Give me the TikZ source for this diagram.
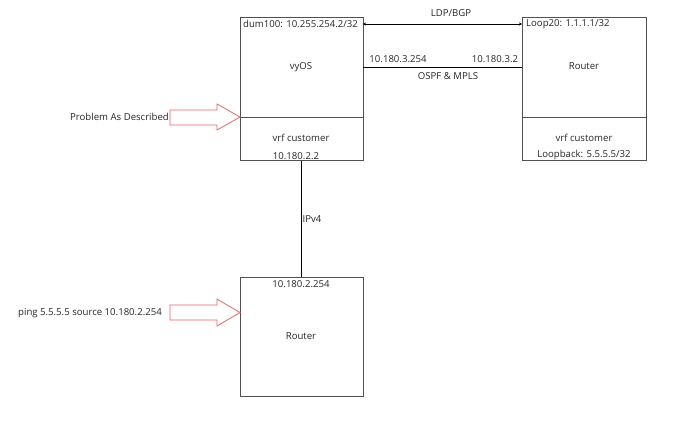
\documentclass[tikz,border=0pt]{standalone}
\usepackage{fontspec}
\setmainfont{Open Sans}
\usetikzlibrary{arrows.meta}
\definecolor{boxgray}{RGB}{80,80,80}
\definecolor{arrred}{RGB}{236,100,100}
\tikzset{
  box/.style={draw=boxgray, line width=0.8pt, anchor=north west, inner sep=0pt},
  lbl/.style={font=\fontsize{9.6}{11}\selectfont, inner sep=0pt, text=black!85},
  conn/.style={draw=black, line width=0.9pt},
  blockarrow/.style={draw=arrred, line width=0.8pt, fill=white},
}
\begin{document}
\begin{tikzpicture}[x=1pt,y=-1pt]
\useasboundingbox (0,0) rectangle (690,437);
% boxes
\node[box, minimum width=123, minimum height=143] (vyos) at (240,17) {};
\node[box, minimum width=124, minimum height=143] (rt) at (522,17) {};
\node[box, minimum width=123, minimum height=119] (rb) at (240,277) {};
\draw[draw=boxgray, line width=0.8pt] (240,117) -- (363,117);
\draw[draw=boxgray, line width=0.8pt] (522,117) -- (646,117);
% texts vyOS
\node[lbl, anchor=west] (dum) at (243,24) {dum100: 10.255.254.2/32};
\node[lbl] (vyt) at (301,67) {vyOS};
\node[lbl] (vyvrf) at (301,138) {vrf customer};
\node[lbl] (vyip) at (296,156) {10.180.2.2};
% texts router right
\node[lbl, anchor=west] (loop) at (526,24) {Loop20: 1.1.1.1/32};
\node[lbl] (rtt) at (584,66) {Router};
\node[lbl] (rtvrf) at (584,138) {vrf customer};
\node[lbl] (rtlb) at (584,155) {Loopback: 5.5.5.5/32};
% texts router bottom
\node[lbl] (rbip) at (301,284) {10.180.2.254};
\node[lbl] (rbt) at (301,336) {Router};
% connectors
\coordinate (l1) at (363,24);
\coordinate (l2) at (522,24);
\draw[conn, line width=0.7pt, {Stealth[length=3pt,width=3pt]}-{Stealth[length=3pt,width=3pt]}] (l1) -- (l2);
\node[lbl] (ldp) at (451,13) {LDP/BGP};
\coordinate (o1) at (363,67);
\coordinate (o2) at (522,67);
\draw[conn] (o1) -- (o2);
\node[lbl] (ip1) at (398,59) {10.180.3.254};
\node[lbl] (ip2) at (495,59) {10.180.3.2};
\node[lbl] (ospf) at (448,76) {OSPF \& MPLS};
\draw[conn] (vyos.south) -- (rb.north);
\node[lbl] (ipv4) at (312,219) {IPv4};
% block arrows
\draw[blockarrow] (170,110) -- (217,110) -- (217,104) -- (240,117) -- (217,130) -- (217,125) -- (170,125) -- cycle;
\node[lbl, anchor=east] (prob) at (169,117) {Problem As Described};
\draw[blockarrow] (170,305) -- (217,305) -- (217,299) -- (240,312.5) -- (217,326) -- (217,320) -- (170,320) -- cycle;
\node[lbl, anchor=west] (ping) at (18,313) {ping 5.5.5.5 source 10.180.2.254};
\end{tikzpicture}
\end{document}
